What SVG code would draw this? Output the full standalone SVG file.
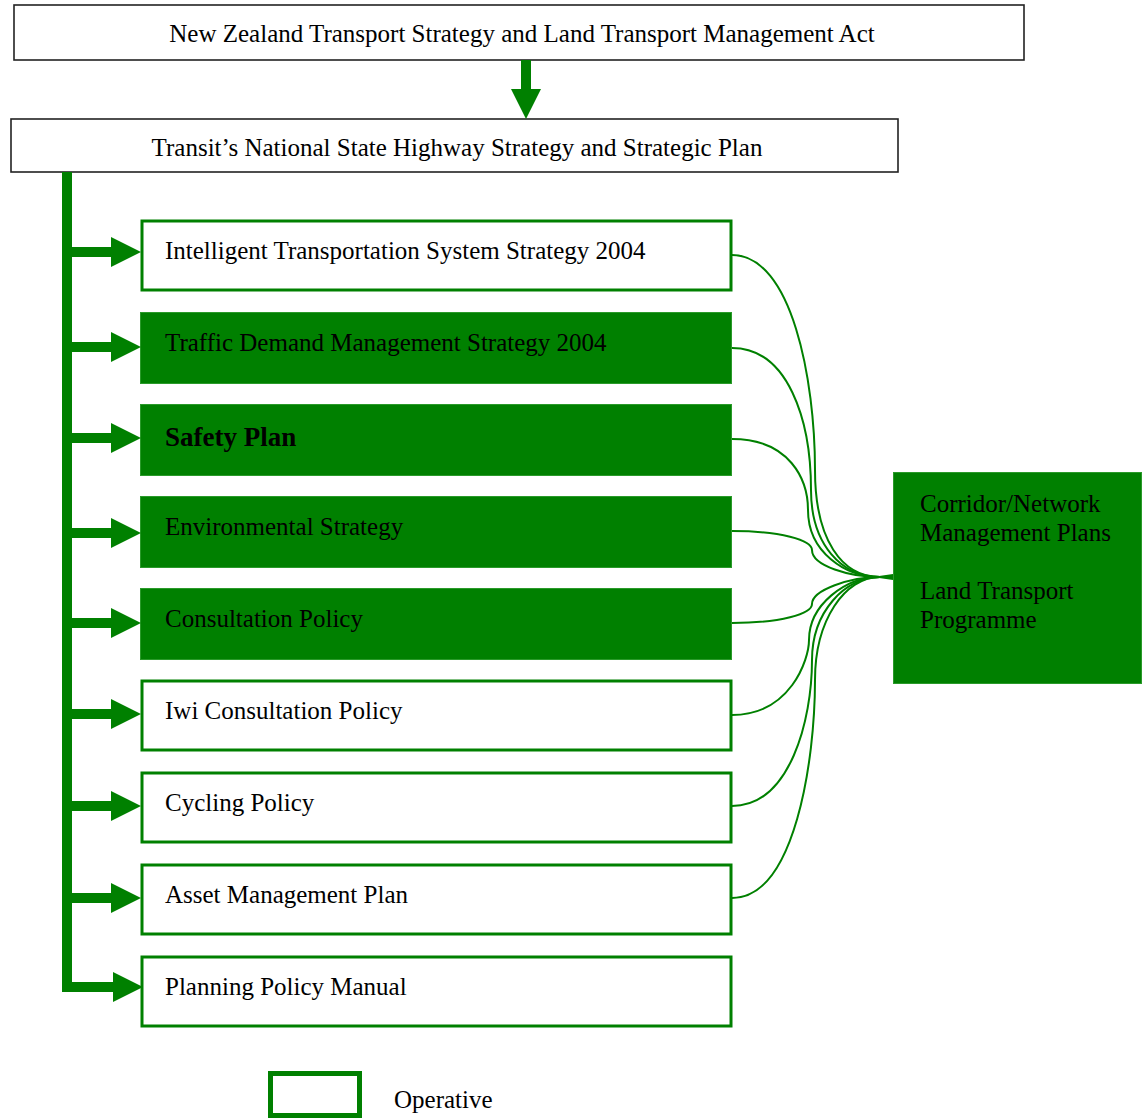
<svg xmlns="http://www.w3.org/2000/svg" width="1147" height="1118" viewBox="0 0 1147 1118">
<style>
text{font-family:"Liberation Serif","Times New Roman",serif;font-size:25px;fill:#000}
.top{fill:#fff;stroke:#222;stroke-width:1.6}
.op{fill:#fff;stroke:#008000;stroke-width:3}
.fill{fill:#008000;stroke:#2a9a2a;stroke-width:1}
.bus{stroke:#008000;stroke-width:10;fill:none}
.cur{stroke:#008000;stroke-width:2;fill:none}
</style>
<defs>
<marker id="ah" markerUnits="userSpaceOnUse" markerWidth="30" markerHeight="30" refX="0" refY="15" orient="auto" viewBox="0 0 30 30">
<path d="M0,0 L30,15 L0,30 z" fill="#008000"/>
</marker>
</defs>
<g id="n-nzts"><rect class="top" x="14" y="5" width="1010" height="55"/><text x="522" y="42" text-anchor="middle">New Zealand Transport Strategy and Land Transport Management Act</text></g>
<g id="n-transit"><rect class="top" x="11" y="119" width="887" height="53"/><text x="457" y="156" text-anchor="middle">Transit’s National State Highway Strategy and Strategic Plan</text></g>
<g id="n-its"><rect class="op" x="142" y="221" width="589" height="69"/><text x="165" y="259">Intelligent Transportation System Strategy 2004</text></g>
<g id="n-tdm"><rect class="fill" x="140.5" y="312.5" width="591" height="71"/><text x="165" y="351">Traffic Demand Management Strategy 2004</text></g>
<g id="n-safety"><rect class="fill" x="140.5" y="404.5" width="591" height="71"/><text x="165" y="446" style="font-weight:bold;font-size:27px">Safety Plan</text></g>
<g id="n-env"><rect class="fill" x="140.5" y="496.5" width="591" height="71"/><text x="165" y="535">Environmental Strategy</text></g>
<g id="n-cons"><rect class="fill" x="140.5" y="588.5" width="591" height="71"/><text x="165" y="627">Consultation Policy</text></g>
<g id="n-iwi"><rect class="op" x="142" y="681" width="589" height="69"/><text x="165" y="719">Iwi Consultation Policy</text></g>
<g id="n-cyc"><rect class="op" x="142" y="773" width="589" height="69"/><text x="165" y="811">Cycling Policy</text></g>
<g id="n-asset"><rect class="op" x="142" y="865" width="589" height="69"/><text x="165" y="903">Asset Management Plan</text></g>
<g id="n-ppm"><rect class="op" x="142" y="957" width="589" height="69"/><text x="165" y="995">Planning Policy Manual</text></g>
<g id="n-corr"><rect class="fill" x="893.5" y="472.5" width="248" height="211"/>
<text x="920" y="512">Corridor/Network</text><text x="920" y="541">Management Plans</text>
<text x="920" y="599">Land Transport</text><text x="920" y="628">Programme</text></g>
<g id="legend"><rect x="270.5" y="1073.5" width="89" height="42" fill="#fff" stroke="#008000" stroke-width="5"/><text x="394" y="1108">Operative</text></g>
<g id="connectors">
<line class="bus" x1="526" y1="60" x2="526" y2="89" marker-end="url(#ah)"/>
<path class="bus" d="M67,172 L67,987 L113,987" marker-end="url(#ah)"/>
<line class="bus" x1="67" y1="252" x2="111" y2="252" marker-end="url(#ah)"/>
<line class="bus" x1="67" y1="347" x2="111" y2="347" marker-end="url(#ah)"/>
<line class="bus" x1="67" y1="438" x2="111" y2="438" marker-end="url(#ah)"/>
<line class="bus" x1="67" y1="533" x2="111" y2="533" marker-end="url(#ah)"/>
<line class="bus" x1="67" y1="623" x2="111" y2="623" marker-end="url(#ah)"/>
<line class="bus" x1="67" y1="714" x2="111" y2="714" marker-end="url(#ah)"/>
<line class="bus" x1="67" y1="806" x2="111" y2="806" marker-end="url(#ah)"/>
<line class="bus" x1="67" y1="898" x2="111" y2="898" marker-end="url(#ah)"/>
<path class="cur" d="M732,255 C792,255 815,380 815,470 C815,540 842,577 880,577"/>
<path class="cur" d="M732,348 C788,348 811,420 811,490 C811,545 842,577 880,577"/>
<path class="cur" d="M732,439 C790,439 808,480 808,510 C808,552 845,577 880,577"/>
<path class="cur" d="M732,531 C780,531 812,540 812,550 C812,566 850,577 880,577"/>
<path class="cur" d="M732,623 C780,623 812,614 812,604 C812,590 850,577 880,577"/>
<path class="cur" d="M732,715 C790,715 809,660 809,640 C809,605 845,577 880,577"/>
<path class="cur" d="M732,806 C790,806 812,720 812,660 C812,612 845,577 880,577"/>
<path class="cur" d="M732,898 C795,898 815,760 815,680 C815,620 845,577 880,577"/>
<path d="M872,577 L893,574 L893,580 z" fill="#008000"/>
</g>
</svg>
